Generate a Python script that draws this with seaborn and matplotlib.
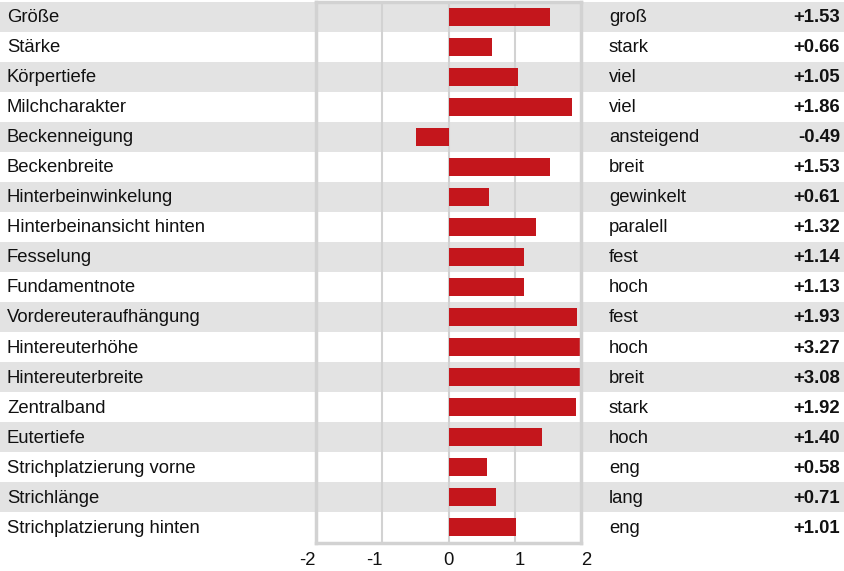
import matplotlib
matplotlib.use("Agg")
import matplotlib.pyplot as plt
import matplotlib.transforms as mtransforms
from matplotlib.patches import Rectangle
import seaborn as sns
import pandas as pd

traits = ["Größe", "Stärke", "Körpertiefe", "Milchcharakter", "Beckenneigung",
          "Beckenbreite", "Hinterbeinwinkelung", "Hinterbeinansicht hinten",
          "Fesselung", "Fundamentnote", "Vordereuteraufhängung", "Hintereuterhöhe",
          "Hintereuterbreite", "Zentralband", "Eutertiefe", "Strichplatzierung vorne",
          "Strichlänge", "Strichplatzierung hinten"]
descriptors = ["groß", "stark", "viel", "viel", "ansteigend", "breit", "gewinkelt",
               "paralell", "fest", "hoch", "fest", "hoch", "breit", "stark", "hoch",
               "eng", "lang", "eng"]
values = [1.53, 0.66, 1.05, 1.86, -0.49, 1.53, 0.61, 1.32, 1.14, 1.13, 1.93, 3.27,
          3.08, 1.92, 1.40, 0.58, 0.71, 1.01]
xticks = [-2, -1, 0, 1, 2]

df = pd.DataFrame({"trait": traits, "value": values})

sns.set_style("white")
plt.rcParams["font.family"] = ["Liberation Sans", "DejaVu Sans"]

W, H = 845, 571
fig = plt.figure(figsize=(W / 100, H / 100), dpi=100)
left, right, top, bottom = 316, 581.3, 1.5, 542.5
ax = fig.add_axes([left / W, 1 - bottom / H, (right - left) / W, (bottom - top) / H])
ax.set_facecolor("none")

BAR = "#c4161c"
GRID = "#d2d2d2"
BAND = "#e3e3e3"
FS = 13.3

sns.barplot(data=df, x="value", y="trait", orient="h", color=BAR, width=0.6,
            linewidth=0, saturation=1, ax=ax, zorder=3)

n = len(traits)
ax.set_xlim(-2, 2)
ax.set_ylim(n - 0.5, -0.5)

# alternating row bands spanning full figure width
trans = mtransforms.blended_transform_factory(fig.transFigure, ax.transData)
for i in range(n):
    if i % 2 == 0:
        ax.add_patch(Rectangle((0, i - 0.5), 1, 1, transform=trans,
                               facecolor=BAND, edgecolor="none", clip_on=False, zorder=0))
    ax.text(7 / W, i + 0.03, traits[i], transform=trans, ha="left", va="center",
            fontsize=FS, color="#111111")
    ax.text(609 / W, i + 0.03, descriptors[i], transform=trans, ha="left", va="center",
            fontsize=FS, color="#111111")
    ax.text(840 / W, i + 0.03, f"{values[i]:+.2f}", transform=trans, ha="right",
            va="center", fontsize=FS, fontweight="bold", color="#111111")

# grid lines
for v in [-1, 0, 1]:
    ax.axvline(v, color=GRID, linewidth=1.5, zorder=1)

for s in ax.spines.values():
    s.set_visible(True)
    s.set_color(GRID)
    s.set_linewidth(2.5)
    s.set_zorder(4)

ax.set_yticks([])
ax.set_ylabel("")
ax.set_xlabel("")
ax.set_xticks(xticks)
ax.set_xticklabels([str(t) for t in xticks])
ax.tick_params(axis="x", length=0, pad=7, labelsize=FS, labelcolor="#111111")
for t, lab in zip(xticks, ax.get_xticklabels()):
    lab.set_ha("right" if t < 0 else ("center" if t == 0 else "left"))

fig.savefig("out.png", dpi=100)
